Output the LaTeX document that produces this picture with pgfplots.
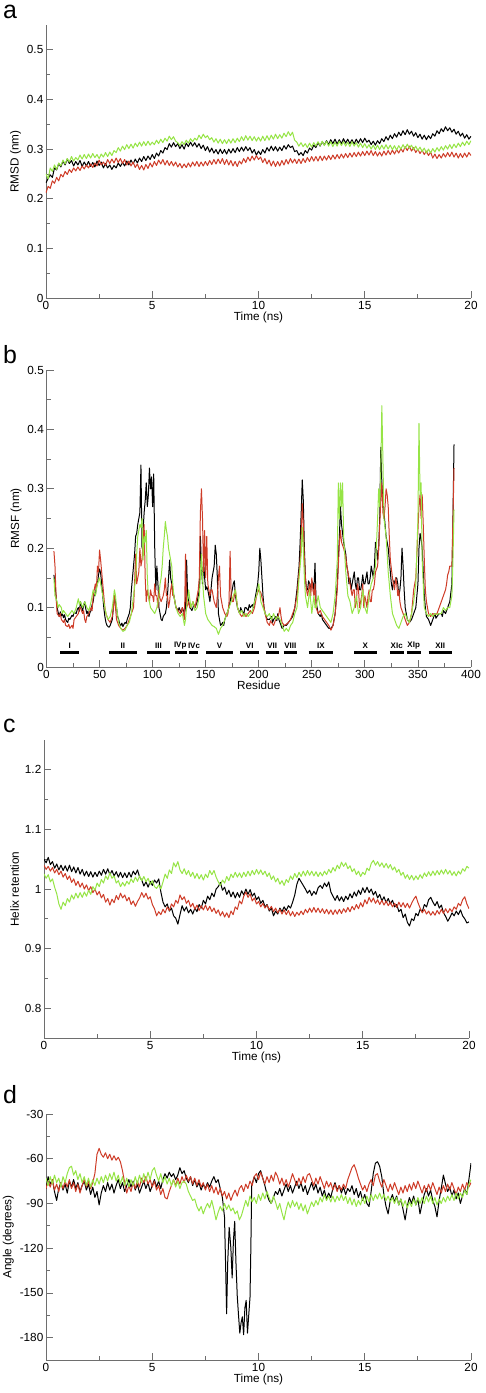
\documentclass[border=0pt]{standalone}
\usepackage{fontspec}
\setmainfont{Liberation Sans}
\usepackage{pgfplots}
\usepackage{pgfplotstable}
\pgfplotsset{compat=1.18}
\definecolor{cred}{RGB}{206,60,40}
\definecolor{cgreen}{RGB}{150,228,70}
\definecolor{axgray}{RGB}{110,110,110}

\pgfplotsset{
 panel/.style={
  scale only axis, anchor=south west, width=425bp,
  axis x line*=bottom, axis y line*=left,
  axis line style={-, draw=axgray, line width=0.9bp},
  tick align=inside, major tick length=7bp, minor tick length=4bp,
  tick style={draw=axgray, line width=0.8bp},
  minor x tick num=1, minor y tick num=1,
  /pgf/number format/assume math mode=true,
  tick label style={font=\fontsize{11.8}{13}\selectfont},
  yticklabel style={inner sep=2.5bp},
  label style={font=\fontsize{11.8}{13}\selectfont},
  xlabel style={yshift=5bp},
  every axis plot/.append style={line width=1.0bp, line join=round},
 }
}

\pgfplotstableread{
B R G
0.232 0.212 0.250
0.241 0.225 0.240
0.248 0.221 0.262
0.243 0.236 0.255
0.262 0.231 0.268
0.258 0.243 0.259
0.271 0.236 0.272
0.264 0.249 0.266
0.276 0.244 0.278
0.268 0.255 0.270
0.280 0.249 0.281
0.271 0.259 0.274
0.277 0.253 0.285
0.266 0.262 0.276
0.275 0.256 0.283
0.268 0.264 0.278
0.277 0.257 0.288
0.265 0.266 0.280
0.274 0.260 0.289
0.266 0.268 0.281
0.275 0.262 0.290
0.265 0.270 0.282
0.273 0.263 0.291
0.264 0.272 0.283
0.276 0.266 0.289
0.267 0.278 0.281
0.274 0.268 0.290
0.262 0.274 0.284
0.271 0.267 0.293
0.262 0.279 0.285
0.268 0.271 0.294
0.259 0.280 0.287
0.267 0.272 0.297
0.262 0.282 0.293
0.272 0.273 0.303
0.265 0.281 0.296
0.273 0.271 0.306
0.266 0.279 0.299
0.276 0.268 0.309
0.268 0.276 0.301
0.278 0.266 0.310
0.270 0.274 0.302
0.280 0.263 0.312
0.272 0.270 0.305
0.282 0.259 0.314
0.275 0.267 0.306
0.285 0.258 0.315
0.277 0.269 0.307
0.286 0.261 0.316
0.279 0.272 0.308
0.289 0.264 0.314
0.281 0.275 0.309
0.292 0.267 0.318
0.286 0.278 0.311
0.297 0.270 0.320
0.292 0.279 0.313
0.303 0.268 0.322
0.299 0.277 0.316
0.311 0.267 0.326
0.304 0.275 0.319
0.313 0.266 0.325
0.305 0.274 0.316
0.311 0.264 0.313
0.301 0.271 0.307
0.309 0.262 0.315
0.300 0.270 0.309
0.312 0.263 0.318
0.305 0.272 0.312
0.314 0.264 0.321
0.306 0.274 0.315
0.313 0.266 0.322
0.304 0.275 0.318
0.311 0.265 0.328
0.301 0.274 0.321
0.308 0.266 0.330
0.297 0.275 0.323
0.305 0.267 0.327
0.294 0.277 0.319
0.302 0.269 0.323
0.292 0.279 0.314
0.299 0.270 0.321
0.290 0.280 0.312
0.300 0.271 0.320
0.291 0.281 0.311
0.299 0.269 0.319
0.290 0.279 0.311
0.300 0.268 0.320
0.292 0.277 0.312
0.301 0.266 0.321
0.293 0.275 0.313
0.303 0.265 0.322
0.295 0.276 0.315
0.304 0.270 0.325
0.296 0.281 0.317
0.305 0.273 0.327
0.297 0.284 0.318
0.303 0.276 0.326
0.292 0.286 0.317
0.299 0.278 0.325
0.288 0.287 0.316
0.296 0.279 0.324
0.289 0.284 0.316
0.299 0.273 0.326
0.292 0.281 0.317
0.303 0.270 0.327
0.296 0.278 0.318
0.306 0.266 0.328
0.297 0.276 0.320
0.305 0.265 0.330
0.296 0.275 0.321
0.304 0.266 0.329
0.297 0.277 0.322
0.307 0.268 0.332
0.300 0.279 0.325
0.309 0.270 0.335
0.303 0.281 0.327
0.306 0.272 0.334
0.295 0.280 0.318
0.297 0.271 0.314
0.288 0.280 0.306
0.293 0.271 0.313
0.287 0.281 0.305
0.297 0.273 0.311
0.292 0.283 0.303
0.302 0.275 0.312
0.298 0.285 0.304
0.308 0.276 0.313
0.303 0.285 0.306
0.313 0.276 0.315
0.306 0.286 0.307
0.315 0.277 0.316
0.308 0.286 0.307
0.317 0.278 0.316
0.309 0.287 0.306
0.319 0.279 0.315
0.311 0.288 0.305
0.320 0.280 0.314
0.310 0.289 0.306
0.319 0.281 0.316
0.311 0.290 0.307
0.321 0.282 0.315
0.312 0.291 0.306
0.320 0.283 0.314
0.311 0.292 0.305
0.319 0.284 0.315
0.310 0.293 0.306
0.320 0.285 0.313
0.312 0.294 0.304
0.321 0.286 0.312
0.313 0.295 0.303
0.322 0.287 0.311
0.314 0.296 0.302
0.318 0.288 0.309
0.309 0.297 0.300
0.316 0.287 0.308
0.308 0.295 0.299
0.317 0.286 0.308
0.311 0.294 0.299
0.321 0.286 0.308
0.315 0.296 0.300
0.325 0.288 0.309
0.318 0.297 0.300
0.328 0.289 0.308
0.321 0.298 0.299
0.331 0.290 0.307
0.324 0.299 0.298
0.334 0.292 0.307
0.327 0.301 0.300
0.337 0.294 0.309
0.329 0.305 0.301
0.339 0.297 0.310
0.330 0.306 0.302
0.336 0.296 0.308
0.326 0.303 0.299
0.333 0.293 0.306
0.323 0.300 0.297
0.330 0.291 0.304
0.320 0.298 0.295
0.328 0.289 0.302
0.319 0.296 0.292
0.327 0.287 0.300
0.321 0.294 0.292
0.331 0.282 0.301
0.326 0.290 0.294
0.337 0.281 0.303
0.331 0.289 0.296
0.341 0.282 0.305
0.335 0.291 0.298
0.345 0.284 0.307
0.337 0.293 0.300
0.343 0.285 0.309
0.334 0.294 0.301
0.340 0.284 0.310
0.330 0.292 0.303
0.336 0.282 0.312
0.326 0.291 0.305
0.332 0.283 0.314
0.322 0.292 0.307
0.329 0.284 0.316
0.320 0.293 0.309
0.326 0.287 0.317
}\rmsdtab

\pgfplotstableread{
B R G
1.050 1.040 1.025
1.044 1.033 1.018
1.053 1.038 1.024
1.041 1.030 1.012
1.046 1.036 1.017
1.035 1.027 1.003
1.042 1.033 0.992
1.032 1.024 0.975
1.040 1.030 0.966
1.031 1.020 0.978
1.039 1.026 0.972
1.030 1.016 0.984
1.040 1.022 0.978
1.029 1.011 0.990
1.037 1.017 0.983
1.027 1.006 0.993
1.036 1.013 0.985
1.025 1.003 0.994
1.033 1.010 0.986
1.022 1.000 0.995
1.030 1.007 0.988
1.021 0.997 0.998
1.029 1.004 0.991
1.020 0.994 1.004
1.028 1.000 0.998
1.021 0.990 1.010
1.030 0.996 1.004
1.023 0.985 1.016
1.033 0.991 1.010
1.025 0.978 1.022
1.034 0.984 1.016
1.024 0.973 1.027
1.031 0.983 1.018
1.022 0.977 1.022
1.029 0.989 1.010
1.020 0.982 1.014
1.028 0.993 1.004
1.019 0.985 1.011
1.027 0.990 1.005
1.019 0.980 1.013
1.028 0.986 1.008
1.020 0.974 1.017
1.030 0.980 1.011
1.024 0.971 1.020
1.032 0.979 1.013
1.020 0.985 1.022
1.015 0.994 1.014
1.005 0.986 1.021
1.012 0.993 1.012
1.003 0.983 1.018
1.013 0.987 1.008
1.006 0.974 1.014
1.015 0.967 1.004
1.010 0.955 1.001
1.017 0.962 1.007
0.995 0.957 1.000
0.978 0.966 1.012
0.970 0.960 1.025
0.975 0.970 1.018
0.963 0.964 1.032
0.968 0.975 1.026
0.955 0.970 1.044
0.951 0.981 1.037
0.941 0.976 1.046
0.957 0.990 1.032
0.972 0.982 1.026
0.963 0.987 1.034
0.970 0.976 1.024
0.960 0.981 1.031
0.966 0.970 1.021
0.958 0.976 1.028
0.968 0.966 1.018
0.962 0.973 1.026
0.974 0.964 1.017
0.968 0.972 1.024
0.981 0.965 1.015
0.975 0.973 1.025
0.988 0.964 1.019
0.982 0.971 1.031
0.993 0.962 1.024
0.987 0.968 1.031
1.000 0.959 1.020
1.004 0.965 1.012
1.011 0.955 1.006
0.998 0.962 1.015
1.003 0.953 1.010
0.991 0.960 1.021
0.998 0.952 1.014
0.987 0.963 1.025
0.995 0.957 1.019
0.985 0.970 1.028
0.994 0.966 1.020
0.986 0.980 1.027
0.997 0.975 1.019
0.990 0.988 1.028
1.000 0.995 1.021
0.991 0.986 1.030
0.999 0.992 1.022
0.988 0.980 1.031
0.993 0.985 1.024
0.982 0.975 1.033
0.987 0.979 1.025
0.976 0.970 1.032
0.981 0.976 1.024
0.970 0.968 1.030
0.974 0.973 1.021
0.963 0.965 1.027
0.968 0.971 1.016
0.955 0.962 1.022
0.963 0.968 1.012
0.958 0.960 1.018
0.968 0.966 1.008
0.962 0.958 1.014
0.970 0.965 1.006
0.964 0.957 1.016
0.972 0.964 1.011
0.968 0.955 1.022
0.978 0.962 1.016
0.990 0.954 1.026
1.008 0.961 1.019
1.018 0.956 1.028
1.012 0.963 1.021
1.006 0.957 1.030
1.000 0.966 1.022
0.993 0.960 1.031
0.998 0.968 1.023
0.989 0.961 1.030
0.996 0.969 1.022
0.991 0.961 1.029
1.002 0.968 1.021
1.006 0.960 1.028
1.001 0.967 1.022
1.010 0.959 1.030
1.004 0.966 1.024
1.012 0.958 1.033
0.995 0.965 1.027
0.988 0.957 1.036
0.981 0.965 1.030
0.989 0.958 1.040
0.980 0.966 1.034
0.987 0.959 1.045
0.979 0.967 1.038
0.988 0.961 1.044
0.982 0.969 1.034
0.992 0.962 1.039
0.985 0.971 1.029
0.995 0.965 1.034
0.988 0.974 1.024
0.998 0.967 1.030
0.991 0.977 1.021
1.002 0.970 1.028
0.994 0.982 1.024
1.003 0.975 1.035
0.994 0.986 1.031
1.000 0.978 1.043
0.990 0.985 1.048
0.996 0.976 1.040
0.985 0.982 1.046
0.991 0.974 1.038
0.980 0.981 1.044
0.987 0.973 1.036
0.977 0.980 1.043
0.984 0.972 1.035
0.975 0.978 1.041
0.981 0.970 1.032
0.970 0.976 1.037
0.974 0.969 1.028
0.962 0.978 1.033
0.966 0.970 1.023
0.952 0.977 1.028
0.958 0.969 1.018
0.944 0.976 1.024
0.938 0.968 1.016
0.950 0.976 1.023
0.947 0.983 1.015
0.959 0.988 1.022
0.955 0.977 1.016
0.966 0.968 1.024
0.962 0.960 1.018
0.974 0.966 1.027
0.970 0.958 1.021
0.982 0.963 1.029
0.986 0.956 1.022
0.978 0.962 1.030
0.972 0.956 1.023
0.979 0.964 1.031
0.968 0.958 1.024
0.973 0.966 1.032
0.960 0.959 1.025
0.954 0.967 1.033
0.946 0.960 1.025
0.952 0.967 1.031
0.960 0.962 1.023
0.955 0.970 1.029
0.963 0.966 1.022
0.957 0.976 1.030
0.965 0.972 1.025
0.955 0.982 1.034
0.950 0.987 1.030
0.943 0.975 1.038
0.945 0.967 1.035
}\helixtab

\pgfplotstableread{
x y
0.0 -80
0.1 -72
0.2 -77
0.3 -74
0.4 -82
0.5 -88
0.6 -80
0.7 -76
0.8 -81
0.9 -77
1.0 -83
1.1 -75
1.2 -79
1.3 -74
1.4 -80
1.5 -76
1.6 -82
1.7 -78
1.8 -75
1.9 -81
2.0 -77
2.1 -84
2.2 -79
2.3 -86
2.4 -82
2.5 -91
2.6 -83
2.7 -78
2.8 -82
2.9 -76
3.0 -81
3.1 -77
3.2 -83
3.3 -78
3.4 -74
3.5 -80
3.6 -76
3.7 -82
3.8 -78
3.9 -74
4.0 -79
4.1 -75
4.2 -81
4.3 -77
4.4 -83
4.5 -79
4.6 -75
4.7 -80
4.8 -76
4.9 -82
5.0 -78
5.1 -74
5.2 -79
5.3 -75
5.4 -80
5.5 -74
5.6 -70
5.7 -73
5.8 -69
5.9 -72
6.0 -70
6.1 -74
6.2 -71
6.3 -66
6.4 -70
6.5 -68
6.6 -73
6.7 -76
6.8 -72
6.9 -78
7.0 -74
7.1 -79
7.2 -76
7.3 -81
7.4 -77
7.5 -80
7.6 -76
7.7 -79
7.8 -75
7.9 -72
8.0 -76
8.1 -74
8.2 -80
8.3 -86
8.4 -99
8.45 -130
8.5 -164
8.55 -130
8.62 -106
8.7 -120
8.76 -140
8.82 -115
8.88 -102
8.94 -130
9.0 -152
9.06 -165
9.12 -177
9.18 -170
9.24 -166
9.3 -178
9.36 -160
9.42 -155
9.48 -177
9.54 -165
9.6 -153
9.64 -120
9.68 -78
9.8 -72
9.9 -76
10.0 -70
10.1 -68
10.2 -73
10.3 -78
10.4 -84
10.5 -88
10.6 -90
10.7 -86
10.8 -82
10.9 -84
11.0 -80
11.1 -85
11.2 -81
11.3 -77
11.4 -82
11.5 -78
11.6 -83
11.7 -79
11.8 -75
11.9 -80
12.0 -76
12.1 -82
12.2 -78
12.3 -84
12.4 -80
12.5 -76
12.6 -81
12.7 -77
12.8 -83
12.9 -79
13.0 -85
13.1 -81
13.2 -87
13.3 -83
13.4 -86
13.5 -80
13.6 -76
13.7 -81
13.8 -78
13.9 -83
14.0 -79
14.1 -84
14.2 -80
14.3 -82
14.4 -78
14.5 -84
14.6 -80
14.7 -86
14.8 -82
14.9 -88
15.0 -84
15.1 -90
15.2 -92
15.3 -82
15.4 -70
15.5 -63
15.6 -62
15.7 -65
15.8 -72
15.9 -84
16.0 -92
16.1 -97
16.2 -88
16.3 -84
16.4 -89
16.5 -85
16.6 -91
16.7 -87
16.8 -94
16.9 -101
17.0 -92
17.1 -86
17.2 -90
17.3 -85
17.4 -91
17.5 -87
17.6 -97
17.7 -90
17.8 -84
17.9 -80
18.0 -85
18.1 -81
18.2 -88
18.3 -92
18.4 -99
18.5 -88
18.6 -80
18.7 -71
18.8 -77
18.9 -82
19.0 -79
19.1 -85
19.2 -81
19.3 -87
19.4 -83
19.5 -90
19.6 -85
19.7 -80
19.8 -84
19.9 -74
20.0 -63
}\angleblack

\pgfplotstableread{
R G
-80 -73
-75 -78
-79 -72
-74 -77
-81 -71
-77 -76
-82 -73
-76 -79
-80 -72
-75 -76
-79 -70
-74 -66
-80 -65
-76 -71
-82 -68
-77 -74
-83 -70
-78 -76
-74 -72
-79 -78
-75 -73
-80 -79
-76 -74
-70 -78
-57 -73
-53 -77
-57 -72
-59 -76
-56 -71
-60 -75
-57 -70
-61 -74
-58 -69
-61 -75
-59 -71
-62 -77
-68 -72
-76 -78
-83 -73
-78 -79
-82 -74
-76 -78
-80 -72
-75 -77
-79 -71
-73 -76
-76 -70
-72 -75
-77 -69
-74 -74
-79 -68
-75 -66
-81 -71
-78 -75
-84 -70
-80 -76
-86 -72
-87 -77
-82 -73
-78 -78
-74 -74
-78 -79
-73 -75
-77 -80
-72 -76
-76 -75
-71 -77
-75 -82
-72 -85
-77 -88
-73 -87
-78 -92
-74 -95
-79 -92
-76 -97
-81 -93
-77 -90
-82 -93
-78 -88
-83 -94
-79 -101
-84 -96
-80 -92
-85 -95
-82 -90
-87 -94
-83 -91
-88 -95
-84 -93
-81 -97
-85 -95
-80 -101
-78 -98
-82 -93
-77 -88
-80 -92
-75 -85
-78 -89
-72 -86
-70 -90
-74 -84
-69 -88
-73 -83
-77 -87
-72 -82
-76 -86
-71 -90
-75 -85
-69 -89
-72 -94
-77 -90
-73 -96
-78 -101
-74 -94
-79 -89
-75 -93
-70 -88
-74 -92
-78 -89
-73 -94
-77 -90
-72 -95
-76 -91
-71 -97
-70 -93
-74 -89
-78 -92
-73 -88
-77 -91
-72 -86
-76 -89
-80 -84
-75 -88
-79 -85
-76 -89
-81 -85
-77 -89
-82 -85
-78 -88
-81 -84
-77 -88
-80 -85
-74 -90
-70 -86
-66 -91
-64 -87
-68 -92
-73 -88
-77 -91
-81 -86
-78 -90
-82 -85
-77 -89
-74 -84
-78 -88
-71 -84
-70 -87
-75 -83
-79 -87
-74 -84
-78 -88
-82 -85
-77 -89
-81 -86
-76 -90
-80 -86
-84 -91
-79 -87
-83 -92
-78 -88
-82 -93
-77 -89
-81 -92
-76 -87
-80 -91
-75 -86
-79 -90
-83 -86
-78 -90
-82 -85
-77 -89
-81 -85
-76 -90
-80 -86
-84 -91
-79 -87
-83 -90
-78 -86
-82 -89
-77 -85
-81 -88
-76 -84
-80 -88
-84 -83
-79 -87
-82 -83
-77 -86
-81 -81
-76 -84
-79 -77
-76 -74
}\anglerg

\pgfplotstableread{
x y
13 0.025
31 0.025
nan nan
59 0.025
85 0.025
nan nan
95 0.025
116 0.025
nan nan
121 0.025
132.5 0.025
nan nan
134.5 0.025
143 0.025
nan nan
150.5 0.025
175.5 0.025
nan nan
182.5 0.025
200.5 0.025
nan nan
206.5 0.025
219 0.025
nan nan
223.5 0.025
236 0.025
nan nan
247 0.025
270 0.025
nan nan
290 0.025
311 0.025
nan nan
323.5 0.025
337 0.025
nan nan
339.5 0.025
352.5 0.025
nan nan
360 0.025
382.5 0.025
}\helixbars

\pgfplotstableread{
x y label
22 0.036 I
72 0.036 II
105.5 0.036 III
126 0.036 IVp
139 0.036 IVc
163 0.036 V
191.5 0.036 VI
212.7 0.036 VII
229.7 0.036 VIII
258.5 0.036 IX
300.3 0.036 X
330 0.036 XIc
346 0.036 XIp
371 0.036 XII
}\helixlabels

\begin{document}
\begin{tikzpicture}
\useasboundingbox (0,0) rectangle (486bp,-1393bp);

% panel labels
\node[anchor=base west, inner sep=0, font=\fontsize{25}{25}\selectfont] at (3bp,-18bp) {a};
\node[anchor=base west, inner sep=0, font=\fontsize{25}{25}\selectfont] at (3bp,-363bp) {b};
\node[anchor=base west, inner sep=0, font=\fontsize{25}{25}\selectfont] at (3bp,-732bp) {c};
\node[anchor=base west, inner sep=0, font=\fontsize{25}{25}\selectfont] at (3bp,-1103bp) {d};

% ---------- a ----------
\begin{axis}[panel, at={(46bp,-298bp)}, height=273bp,
  xmin=0, xmax=20, ymin=0, ymax=0.55,
  xtick={0,5,10,15,20}, ytick={0,0.1,0.2,0.3,0.4,0.5},
  xlabel={Time (ns)}, ylabel={RMSD (nm)}]
\addplot[black] table[x expr=\coordindex/10, y=B]{\rmsdtab};
\addplot[cred] table[x expr=\coordindex/10, y=R]{\rmsdtab};
\addplot[cgreen] table[x expr=\coordindex/10, y=G]{\rmsdtab};
\end{axis}

% ---------- b ----------
\begin{axis}[panel, at={(46.5bp,-667bp)}, width=424.5bp, height=297bp,
  xmin=0, xmax=400, ymin=0, ymax=0.5,
  xtick={0,50,...,400}, ytick={0,0.1,0.2,0.3,0.4,0.5},
  xlabel={Residue}, ylabel={RMSF (nm)}, unbounded coords=jump]
\addplot[black] coordinates {
(7,0.155)(8,0.14)(9,0.12)(10,0.10)(11,0.092)(12,0.085)(13,0.093)(14,0.086)(15,0.09)(16,0.083)(17,0.088)(18,0.08)(19,0.077)(20,0.075)(21,0.082)(22,0.08)(24,0.087)(25,0.085)(26,0.092)(28,0.09)(29,0.097)(30,0.10)(31,0.094)(32,0.11)(33,0.102)(34,0.095)(35,0.104)(36,0.11)(37,0.098)(38,0.09)(39,0.094)(40,0.085)(41,0.092)(42,0.095)(43,0.105)(44,0.11)(45,0.125)(46,0.12)(47,0.135)(48,0.14)(49,0.155)(50,0.165)(51,0.158)(52,0.14)(53,0.12)(54,0.10)(55,0.085)(56,0.075)(57,0.07)(58,0.068)(59,0.067)(60,0.07)(61,0.075)(62,0.08)(63,0.10)(64,0.12)(65,0.11)(66,0.10)(67,0.085)(68,0.08)(69,0.072)(70,0.07)(71,0.074)(72,0.068)(73,0.072)(74,0.075)(75,0.073)(76,0.08)(77,0.085)(78,0.09)(79,0.10)(80,0.13)(81,0.15)(82,0.17)(83,0.19)(84,0.22)(85,0.225)(86,0.24)(87,0.25)(88,0.26)(89,0.34)(90,0.20)(91,0.23)(92,0.26)(93,0.28)(94,0.31)(95,0.27)(96,0.29)(97,0.335)(98,0.30)(99,0.32)(100,0.27)(101,0.325)(102,0.20)(103,0.13)(104,0.17)(105,0.14)(106,0.10)(107,0.09)(108,0.08)(109,0.078)(110,0.085)(111,0.088)(112,0.09)(113,0.10)(114,0.12)(115,0.15)(116,0.18)(117,0.15)(118,0.14)(119,0.13)(120,0.12)(121,0.11)(122,0.10)(123,0.098)(124,0.095)(125,0.10)(126,0.095)(127,0.092)(128,0.10)(129,0.095)(130,0.09)(131,0.10)(132,0.18)(133,0.12)(134,0.11)(135,0.10)(136,0.098)(137,0.095)(138,0.10)(139,0.105)(140,0.10)(141,0.105)(142,0.11)(143,0.12)(144,0.13)(145,0.22)(146,0.17)(147,0.14)(148,0.18)(149,0.15)(150,0.13)(151,0.135)(152,0.13)(153,0.12)(154,0.11)(155,0.13)(156,0.15)(157,0.16)(158,0.17)(159,0.205)(160,0.19)(161,0.15)(162,0.09)(163,0.08)(164,0.07)(165,0.072)(166,0.075)(167,0.07)(168,0.08)(169,0.085)(170,0.09)(171,0.095)(172,0.10)(173,0.11)(174,0.12)(175,0.13)(176,0.14)(177,0.145)(178,0.12)(179,0.11)(180,0.10)(182,0.09)(183,0.1)(184,0.095)(186,0.09)(187,0.1)(188,0.10)(190,0.095)(191,0.105)(192,0.10)(194,0.105)(195,0.1)(196,0.11)(197,0.12)(198,0.13)(199,0.14)(200,0.16)(201,0.20)(202,0.18)(203,0.15)(204,0.12)(205,0.1)(206,0.09)(208,0.08)(210,0.08)(212,0.085)(213,0.075)(214,0.08)(216,0.085)(217,0.078)(218,0.09)(219,0.08)(220,0.075)(222,0.065)(224,0.07)(226,0.07)(228,0.075)(230,0.08)(232,0.085)(234,0.10)(236,0.13)(238,0.17)(239,0.21)(240,0.26)(241,0.315)(242,0.28)(243,0.20)(244,0.15)(245,0.13)(246,0.13)(247,0.145)(248,0.14)(249,0.13)(250,0.145)(251,0.14)(252,0.13)(253,0.175)(254,0.11)(255,0.1)(256,0.09)(258,0.085)(259,0.09)(260,0.08)(262,0.075)(264,0.07)(266,0.065)(268,0.065)(270,0.07)(272,0.09)(274,0.14)(275,0.18)(276,0.22)(277,0.27)(278,0.24)(280,0.21)(281,0.2)(282,0.19)(283,0.17)(284,0.16)(285,0.14)(286,0.15)(287,0.13)(288,0.14)(289,0.15)(290,0.16)(291,0.14)(292,0.13)(293,0.15)(294,0.15)(295,0.13)(296,0.13)(297,0.14)(298,0.155)(299,0.14)(300,0.14)(301,0.15)(302,0.16)(303,0.14)(304,0.14)(305,0.15)(306,0.17)(307,0.16)(308,0.15)(309,0.17)(310,0.21)(311,0.2)(312,0.18)(313,0.2)(314,0.25)(315,0.37)(316,0.31)(317,0.28)(318,0.26)(319,0.24)(320,0.22)(321,0.21)(322,0.20)(323,0.18)(324,0.16)(325,0.14)(326,0.13)(327,0.145)(328,0.14)(329,0.15)(330,0.15)(331,0.14)(332,0.12)(333,0.13)(334,0.15)(335,0.20)(336,0.17)(337,0.13)(338,0.10)(339,0.09)(340,0.08)(342,0.075)(344,0.08)(346,0.09)(348,0.10)(349,0.12)(350,0.14)(351,0.20)(352,0.225)(353,0.215)(354,0.20)(355,0.16)(356,0.12)(357,0.1)(358,0.085)(360,0.08)(361,0.075)(362,0.07)(364,0.08)(366,0.09)(367,0.082)(368,0.085)(370,0.09)(372,0.09)(373,0.085)(374,0.095)(376,0.09)(378,0.10)(380,0.11)(382,0.14)(383,0.25)(384,0.375)};
\addplot[cred] coordinates {
(7,0.195)(8,0.17)(9,0.12)(10,0.09)(12,0.085)(13,0.09)(14,0.08)(16,0.075)(17,0.08)(18,0.07)(20,0.068)(21,0.072)(22,0.065)(24,0.07)(25,0.065)(26,0.08)(28,0.085)(30,0.09)(31,0.098)(32,0.10)(34,0.09)(35,0.095)(36,0.08)(37,0.075)(38,0.085)(40,0.09)(42,0.10)(43,0.095)(44,0.12)(46,0.14)(47,0.13)(48,0.17)(49,0.16)(50,0.197)(51,0.18)(52,0.16)(54,0.12)(55,0.10)(56,0.09)(58,0.08)(60,0.075)(62,0.085)(63,0.10)(64,0.12)(65,0.10)(66,0.08)(68,0.07)(70,0.065)(72,0.062)(74,0.065)(76,0.07)(78,0.08)(80,0.09)(82,0.10)(83,0.14)(84,0.19)(85,0.14)(86,0.15)(87,0.16)(88,0.20)(89,0.17)(90,0.18)(91,0.21)(92,0.24)(93,0.15)(94,0.11)(95,0.13)(96,0.12)(97,0.11)(98,0.13)(99,0.12)(100,0.12)(101,0.11)(102,0.14)(103,0.12)(104,0.12)(105,0.10)(106,0.13)(107,0.115)(108,0.11)(110,0.12)(111,0.13)(112,0.15)(113,0.12)(114,0.12)(115,0.10)(116,0.11)(117,0.13)(118,0.14)(119,0.12)(120,0.12)(121,0.11)(122,0.10)(124,0.095)(126,0.09)(128,0.10)(129,0.09)(130,0.08)(131,0.19)(132,0.10)(134,0.11)(135,0.10)(136,0.10)(138,0.11)(140,0.10)(142,0.12)(143,0.13)(144,0.15)(145,0.26)(146,0.30)(147,0.25)(148,0.16)(149,0.23)(150,0.15)(151,0.22)(152,0.14)(153,0.13)(154,0.12)(155,0.13)(156,0.13)(157,0.12)(158,0.11)(160,0.10)(161,0.12)(162,0.15)(163,0.17)(164,0.12)(165,0.11)(166,0.10)(168,0.09)(170,0.085)(171,0.09)(172,0.11)(173,0.195)(174,0.12)(175,0.11)(176,0.11)(178,0.13)(179,0.115)(180,0.10)(182,0.09)(184,0.085)(186,0.09)(188,0.085)(190,0.09)(192,0.095)(194,0.09)(196,0.10)(198,0.12)(200,0.13)(202,0.125)(204,0.11)(206,0.09)(208,0.075)(210,0.07)(211,0.078)(212,0.075)(214,0.07)(216,0.08)(218,0.085)(219,0.09)(220,0.10)(221,0.085)(222,0.075)(224,0.07)(226,0.072)(228,0.075)(230,0.08)(232,0.09)(234,0.10)(236,0.12)(238,0.16)(239,0.18)(240,0.22)(241,0.275)(242,0.24)(243,0.18)(244,0.15)(245,0.13)(246,0.12)(247,0.13)(248,0.14)(249,0.12)(250,0.15)(251,0.13)(252,0.12)(253,0.14)(254,0.10)(256,0.09)(258,0.095)(260,0.085)(262,0.08)(264,0.075)(266,0.07)(268,0.062)(270,0.07)(272,0.09)(274,0.13)(275,0.17)(276,0.21)(277,0.23)(278,0.21)(280,0.20)(282,0.185)(283,0.17)(284,0.16)(286,0.14)(288,0.12)(289,0.13)(290,0.13)(291,0.10)(292,0.11)(293,0.14)(294,0.13)(295,0.10)(296,0.11)(297,0.12)(298,0.14)(299,0.10)(300,0.12)(302,0.10)(303,0.12)(304,0.13)(305,0.11)(306,0.11)(307,0.13)(308,0.13)(309,0.14)(310,0.16)(312,0.17)(313,0.20)(314,0.24)(315,0.28)(316,0.31)(317,0.26)(318,0.25)(319,0.27)(320,0.30)(321,0.29)(322,0.27)(323,0.22)(324,0.18)(326,0.15)(327,0.14)(328,0.13)(329,0.15)(330,0.14)(331,0.12)(332,0.13)(333,0.11)(334,0.10)(336,0.09)(338,0.08)(340,0.07)(342,0.075)(344,0.09)(346,0.13)(348,0.15)(349,0.19)(350,0.23)(351,0.27)(352,0.29)(353,0.25)(354,0.29)(355,0.24)(356,0.18)(357,0.13)(358,0.11)(360,0.09)(362,0.085)(364,0.09)(366,0.088)(368,0.09)(370,0.10)(372,0.11)(374,0.12)(376,0.13)(377,0.14)(378,0.155)(379,0.16)(380,0.17)(382,0.17)(383,0.25)(384,0.335)};
\addplot[cgreen] coordinates {
(7,0.15)(8,0.12)(10,0.11)(11,0.1)(12,0.105)(14,0.10)(15,0.09)(16,0.095)(18,0.09)(20,0.085)(22,0.09)(24,0.095)(26,0.09)(28,0.10)(30,0.115)(31,0.105)(32,0.11)(34,0.10)(36,0.11)(38,0.10)(40,0.095)(42,0.11)(43,0.12)(44,0.13)(46,0.12)(48,0.14)(50,0.15)(52,0.13)(54,0.11)(56,0.09)(58,0.08)(60,0.085)(62,0.10)(63,0.115)(64,0.13)(65,0.12)(66,0.10)(68,0.075)(70,0.065)(72,0.06)(74,0.062)(76,0.07)(78,0.075)(80,0.09)(82,0.12)(84,0.15)(85,0.19)(86,0.22)(87,0.23)(88,0.24)(89,0.235)(90,0.25)(91,0.18)(92,0.22)(93,0.21)(94,0.23)(95,0.15)(96,0.12)(97,0.11)(98,0.10)(100,0.095)(102,0.09)(104,0.10)(106,0.12)(107,0.14)(108,0.15)(109,0.17)(110,0.20)(111,0.22)(112,0.245)(113,0.23)(114,0.22)(115,0.2)(116,0.19)(117,0.18)(118,0.17)(119,0.14)(120,0.12)(122,0.10)(124,0.09)(126,0.085)(128,0.09)(130,0.07)(131,0.08)(132,0.10)(134,0.13)(135,0.115)(136,0.10)(138,0.11)(140,0.095)(142,0.10)(144,0.12)(145,0.15)(146,0.19)(147,0.15)(148,0.12)(150,0.09)(152,0.08)(154,0.075)(156,0.07)(158,0.068)(160,0.065)(162,0.055)(164,0.065)(166,0.07)(168,0.08)(170,0.09)(172,0.10)(174,0.11)(176,0.12)(178,0.13)(180,0.10)(182,0.09)(184,0.095)(186,0.085)(188,0.09)(190,0.085)(192,0.09)(194,0.095)(196,0.11)(198,0.12)(200,0.14)(202,0.11)(204,0.10)(206,0.09)(208,0.085)(210,0.09)(212,0.08)(214,0.09)(216,0.08)(218,0.085)(220,0.08)(222,0.07)(224,0.06)(226,0.065)(228,0.06)(230,0.07)(232,0.075)(234,0.09)(236,0.10)(238,0.15)(240,0.19)(241,0.235)(242,0.20)(243,0.15)(244,0.12)(246,0.10)(248,0.13)(250,0.09)(252,0.12)(253,0.1)(254,0.10)(256,0.12)(258,0.10)(260,0.095)(262,0.09)(264,0.085)(266,0.08)(268,0.075)(270,0.09)(272,0.12)(274,0.18)(275,0.31)(276,0.25)(277,0.31)(278,0.27)(279,0.31)(280,0.22)(282,0.16)(284,0.12)(286,0.11)(288,0.09)(290,0.10)(292,0.12)(294,0.09)(296,0.10)(298,0.13)(300,0.10)(302,0.09)(304,0.12)(306,0.14)(308,0.15)(310,0.17)(312,0.25)(313,0.30)(314,0.27)(315,0.33)(316,0.44)(317,0.35)(318,0.25)(320,0.22)(322,0.16)(324,0.12)(326,0.09)(328,0.08)(330,0.07)(332,0.065)(334,0.075)(336,0.085)(338,0.09)(340,0.08)(342,0.075)(344,0.09)(346,0.11)(348,0.14)(350,0.25)(351,0.41)(352,0.29)(353,0.31)(354,0.18)(356,0.10)(358,0.09)(360,0.085)(362,0.09)(364,0.085)(366,0.09)(368,0.088)(370,0.09)(372,0.09)(374,0.10)(376,0.095)(378,0.10)(380,0.10)(382,0.12)(383,0.18)(384,0.265)};
\addplot[black, line width=2.7bp, line cap=butt] table[x=x, y=y]{\helixbars};
\addplot[draw=none, nodes near coords, point meta=explicit symbolic,
  nodes near coords style={anchor=center, inner sep=0, font=\fontsize{8}{9}\selectfont\bfseries}]
  table[x=x, y=y, meta=label]{\helixlabels};
\end{axis}

% ---------- c ----------
\begin{axis}[panel, at={(44bp,-1038bp)}, height=298bp,
  xmin=0, xmax=20, ymin=0.75, ymax=1.25,
  xtick={0,5,10,15,20}, ytick={0.8,0.9,1,1.1,1.2},
  xlabel={Time (ns)}, ylabel={Helix retention}]
\addplot[black] table[x expr=\coordindex/10, y=B]{\helixtab};
\addplot[cred] table[x expr=\coordindex/10, y=R]{\helixtab};
\addplot[cgreen] table[x expr=\coordindex/10, y=G]{\helixtab};
\end{axis}

% ---------- d ----------
\begin{axis}[panel, at={(46bp,-1360bp)}, height=246bp,
  xmin=0, xmax=20, ymin=-195, ymax=-30,
  xtick={0,5,10,15,20}, ytick={-180,-150,-120,-90,-60,-30},
  xlabel={Time (ns)}, ylabel={Angle (degrees)}]
\addplot[black] table[x=x, y=y]{\angleblack};
\addplot[cred] table[x expr=\coordindex/10, y=R]{\anglerg};
\addplot[cgreen] table[x expr=\coordindex/10, y=G]{\anglerg};
\end{axis}
\end{tikzpicture}
\end{document}
